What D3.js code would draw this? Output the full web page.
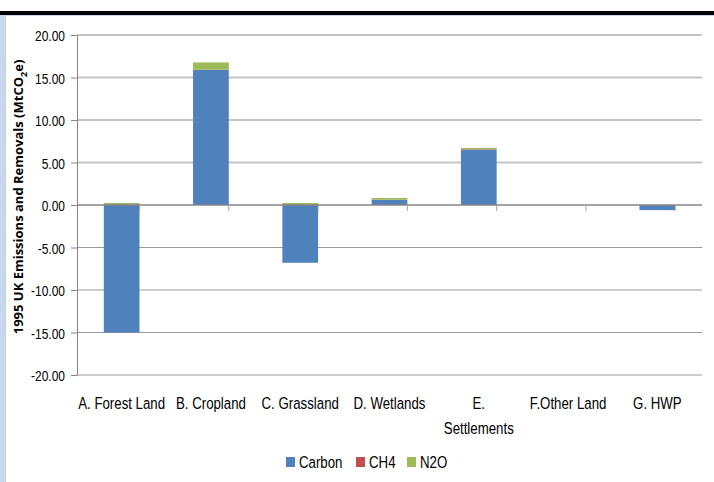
<!DOCTYPE html>
<html>
<head>
<meta charset="utf-8">
<script src="https://cdn.jsdelivr.net/npm/d3@7"></script>
<style>
  body { margin: 0; background: #fff; }
  svg text { font-family: "Liberation Sans", Arial, sans-serif; }
</style>
</head>
<body>
<div id="chart"></div>
<script>
// data
const categories = ["A. Forest Land", "B. Cropland", "C. Grassland", "D. Wetlands", "E. Settlements", "F.Other Land", "G. HWP"];
const carbon = [-15.0, 15.9, -6.8, 0.6, 6.5, 0.0, -0.6];
const ch4    = [0.08, 0.02, 0.08, 0.02, 0.06, 0.0, 0.0];
const n2o    = [0.15, 0.85, 0.15, 0.2, 0.15, 0.0, 0.0];
const seriesNames = ["Carbon", "CH4", "N2O"];
const colors = ["#4F81BD", "#C0504D", "#9BBB59"];
const yTicks = [20, 15, 10, 5, 0, -5, -10, -15, -20];

const W = 714, H = 482;
const margin = {top: 35, right: 12, bottom: 107, left: 77};
const width = W - margin.left - margin.right,
      height = H - margin.top - margin.bottom;

// no narrow font installed, squeeze text horizontally like Calibri
const SQ = 0.78;

const svg = d3.select("#chart").append("svg")
  .attr("width", W).attr("height", H);

// frame bits from the screenshot
svg.append("rect").attr("x", 0).attr("y", 11).attr("width", W).attr("height", 4).attr("fill", "#000");
svg.append("rect").attr("x", 0).attr("y", 15).attr("width", 5).attr("height", H - 15).attr("fill", "#C6D9F1");
svg.append("rect").attr("x", 5).attr("y", 15).attr("width", 1).attr("height", H - 15).attr("fill", "#D0D0D0");
svg.append("rect").attr("x", 0).attr("y", 15).attr("width", W).attr("height", 1).attr("fill", "#C6D9F1");

const g = svg.append("g").attr("transform", "translate(" + margin.left + "," + margin.top + ")");

const x = d3.scaleBand().domain(categories).range([0, width]).paddingInner(0.6).paddingOuter(0.3);
const y = d3.scaleLinear().domain([-20, 20]).range([height, 0]);

// gridlines
g.append("g").selectAll("line")
  .data(yTicks.filter(d => d !== 0))
  .enter().append("line")
    .attr("x1", 0).attr("x2", width)
    .attr("y1", d => y(d)).attr("y2", d => y(d))
    .attr("stroke", d => d > 0 ? "#C4C4C4" : "#9A9A9A")
    .attr("stroke-width", d => d > 0 ? 2 : 1.2);

// stacked bars
const rows = categories.map((c, i) => ({cat: c, Carbon: carbon[i], CH4: ch4[i], N2O: n2o[i]}));
const stack = d3.stack().keys(seriesNames).offset(d3.stackOffsetDiverging);
const layers = stack(rows);

g.append("g").selectAll("g")
  .data(layers)
  .enter().append("g")
    .attr("fill", (d, i) => colors[i])
  .selectAll("rect")
  .data(d => d)
  .enter().append("rect")
    .attr("x", d => x(d.data.cat))
    .attr("width", x.bandwidth())
    .attr("y", d => y(Math.max(d[0], d[1])))
    .attr("height", d => Math.abs(y(d[0]) - y(d[1])));

// y axis
const yAxis = g.append("g")
  .call(d3.axisLeft(y).tickValues(yTicks).tickFormat("").tickSize(6).tickSizeOuter(0));
yAxis.select(".domain").attr("stroke", "#868686");
yAxis.selectAll(".tick line").attr("stroke", "#868686");
yAxis.selectAll(".tick").append("text")
  .attr("transform", "translate(-12,5.5) scale(0.8,1)")
  .attr("text-anchor", "end")
  .attr("font-size", 15)
  .attr("fill", "#000")
  .text(d => d3.format(".2f")(d).replace("−", "-"));

// zero line + category ticks
g.append("line").attr("x1", 0).attr("x2", width).attr("y1", y(0)).attr("y2", y(0))
  .attr("stroke", "#868686").attr("stroke-width", 1.5);
const step = x.step();
const edge0 = x(categories[0]) - x.paddingOuter() * step - x.paddingInner() * step / 2;
g.append("g").selectAll("line")
  .data(d3.range(1, categories.length + 1))
  .enter().append("line")
    .attr("x1", i => edge0 + i * step)
    .attr("x2", i => edge0 + i * step)
    .attr("y1", y(0)).attr("y2", y(0) + 6)
    .attr("stroke", "#A0A0A0");

// category labels
const labels = g.append("g").selectAll("text")
  .data(categories)
  .enter().append("text")
    .attr("text-anchor", "middle")
    .attr("font-size", 17)
    .attr("transform", d => "translate(" + (x(d) + x.bandwidth() / 2) + "," + (height + 34) + ") scale(" + SQ + ",1)");
labels.each(function(d) {
  const t = d3.select(this);
  if (d === "E. Settlements") {
    t.append("tspan").attr("x", 0).text("E.");
    t.append("tspan").attr("x", 0).attr("dy", 25).text("Settlements");
  } else {
    t.text(d);
  }
});

// y title
svg.append("text")
  .attr("transform", "translate(23,197) rotate(-90)")
  .attr("text-anchor", "middle")
  .attr("font-size", 13)
  .attr("font-weight", "bold")
  .style("font-family", "'Open Sans', 'DejaVu Sans', sans-serif")
  .html('1995 UK Emissions and Removals (MtCO<tspan font-size="9" dy="4">2</tspan><tspan dy="-4">e)</tspan>');

// legend
const legendX = [286, 356, 407];
const legend = svg.append("g").selectAll("g")
  .data(seriesNames)
  .enter().append("g")
    .attr("transform", (d, i) => "translate(" + legendX[i] + ",457)");
legend.append("rect").attr("width", 9).attr("height", 10).attr("fill", (d, i) => colors[i]);
legend.append("text")
  .attr("transform", "translate(13,11) scale(" + SQ + ",1)")
  .attr("font-size", 17).text(d => d);
</script>
</body>
</html>
